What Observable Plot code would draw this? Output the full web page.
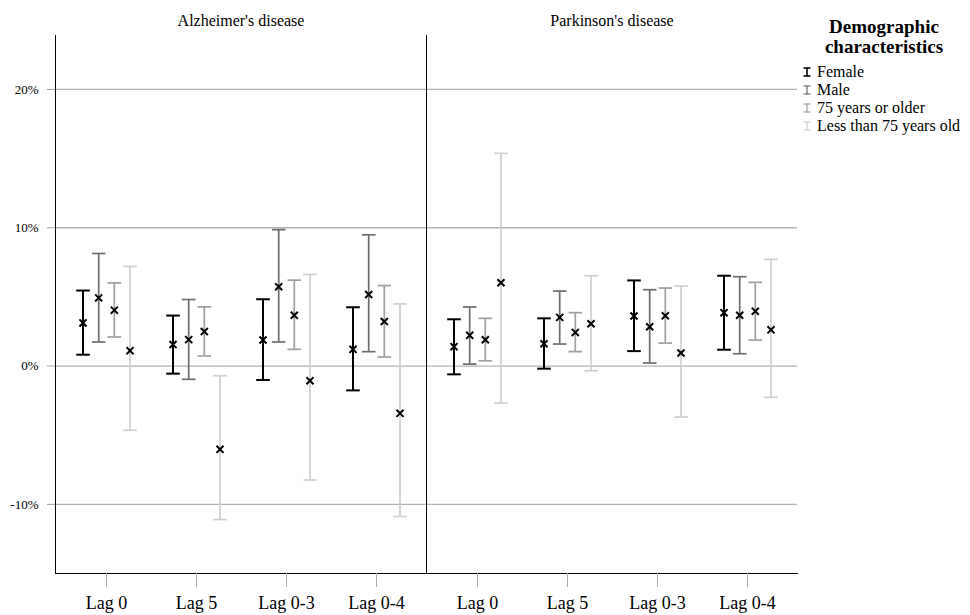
<!DOCTYPE html>
<html>
<head>
<meta charset="utf-8">
<script src="https://cdn.jsdelivr.net/npm/d3@7"></script>
<script src="https://cdn.jsdelivr.net/npm/@observablehq/plot@0.6"></script>
<style>
  body { margin: 0; background: #fff; }
  #wrap { position: relative; width: 970px; height: 615px; font-family: "Liberation Serif", "Times New Roman", serif; }
  #legend-title { position: absolute; left: 803px; top: 17px; width: 162px; text-align: center; font-weight: bold; font-size: 19px; line-height: 19.5px; color: #000; }
  #legend-items { position: absolute; left: 803px; top: 63px; font-size: 16px; line-height: 18px; color: #000; white-space: nowrap; }
  .item { display: flex; align-items: center; height: 18px; }
  .item svg { margin-right: 6px; }
</style>
</head>
<body>
<div id="wrap">
  <div id="chart"></div>
  <div id="legend-title">Demographic<br>characteristics</div>
  <div id="legend-items"></div>
</div>
<script>
// ---- data ----
const diseases = ["Alzheimer's disease", "Parkinson's disease"];
const lags = ["Lag 0", "Lag 5", "Lag 0-3", "Lag 0-4"];
const groups = ["Female", "Male", "75 years or older", "Less than 75 years old"];
const yTicks = [-10, 0, 10, 20];

// rows: groups (Female, Male, 75+, <75); columns: lags  (percent change)
const adEst = [
  [3.12, 1.55, 1.88, 1.21],
  [4.93, 1.91, 5.73, 5.17],
  [4.04, 2.49, 3.67, 3.22],
  [1.11, -6.02, -1.06, -3.42]
];
const adLo = [
  [0.82, -0.55, -1.01, -1.76],
  [1.74, -0.96, 1.74, 1.04],
  [2.10, 0.73, 1.21, 0.65],
  [-4.64, -11.1, -8.24, -10.87]
];
const adHi = [
  [5.46, 3.65, 4.83, 4.25],
  [8.14, 4.81, 9.86, 9.49],
  [6.01, 4.28, 6.21, 5.82],
  [7.20, -0.70, 6.62, 4.49]
];
const pdEst = [
  [1.40, 1.61, 3.62, 3.86],
  [2.22, 3.52, 2.84, 3.67],
  [1.90, 2.43, 3.64, 3.96],
  [6.02, 3.06, 0.94, 2.62]
];
const pdLo = [
  [-0.60, -0.19, 1.08, 1.18],
  [0.14, 1.59, 0.22, 0.89],
  [0.38, 1.04, 1.66, 1.88],
  [-2.68, -0.34, -3.69, -2.26]
];
const pdHi = [
  [3.38, 3.45, 6.19, 6.53],
  [4.27, 5.42, 5.52, 6.46],
  [3.45, 3.86, 5.64, 6.05],
  [15.38, 6.53, 5.78, 7.71]
];

// ---- styles ----
const colors = ["#000000", "#6e6e6e", "#a0a0a0", "#d0d0d0"];
const widths = [2, 1.7, 1.7, 1.7];
const offsets = [-23.5, -7.8, 7.8, 23.5];

// ---- build table ----
const rows = [];
const tables = [[adEst, adLo, adHi], [pdEst, pdLo, pdHi]];
diseases.forEach((disease, di) => {
  const [E, L, H] = tables[di];
  groups.forEach((group, gi) => {
    lags.forEach((lag, li) => {
      rows.push({disease, group, gi, lag, est: E[gi][li], lo: L[gi][li], hi: H[gi][li]});
    });
  });
});

const cap = {
  draw(context, size) {
    const w = Math.sqrt(size / Math.PI);
    context.moveTo(-w, 0);
    context.lineTo(w, 0);
  }
};

const marks = [
  Plot.gridY({ticks: yTicks, stroke: "#b4b4b4", strokeOpacity: 1, strokeWidth: 1.3}),
  Plot.frame({anchor: "left", stroke: "#000", strokeWidth: 1}),
  Plot.frame({anchor: "bottom", stroke: "#000", strokeWidth: 1}),
  Plot.axisY({ticks: yTicks, tickFormat: d => `${d}%`, tickSize: 8, tickPadding: 9, stroke: "#a0a0a0", fill: "#000", fontSize: 13, label: null}),
  Plot.axisX({tickSize: 14, tickPadding: 9, stroke: "#a8a8a8", fill: "#000", fontSize: 18, label: null}),
  Plot.axisFx({anchor: "top", tickSize: 0, tickPadding: 10, fill: "#000", fontSize: 16, label: null})
];

groups.forEach((g, i) => {
  const sub = rows.filter(d => d.group === g);
  marks.push(
    Plot.ruleX(sub, {fx: "disease", x: "lag", y1: "lo", y2: "hi", dx: offsets[i], stroke: colors[i], strokeWidth: widths[i]}),
    Plot.dot(sub, {fx: "disease", x: "lag", y: "lo", dx: offsets[i], symbol: cap, r: 6.8, stroke: colors[i], strokeWidth: widths[i]}),
    Plot.dot(sub, {fx: "disease", x: "lag", y: "hi", dx: offsets[i], symbol: cap, r: 6.8, stroke: colors[i], strokeWidth: widths[i]})
  );
});
groups.forEach((g, i) => {
  const sub = rows.filter(d => d.group === g);
  marks.push(
    Plot.dot(sub, {fx: "disease", x: "lag", y: "est", dx: offsets[i], symbol: "times", r: 3.3, stroke: "#000", strokeWidth: 2})
  );
});

const chart = Plot.plot({
  width: 970,
  height: 615,
  marginLeft: 55,
  marginRight: 173,
  marginTop: 35,
  marginBottom: 42,
  style: {fontFamily: "Liberation Serif, Times New Roman, serif", fontSize: "13px", background: "#fff", color: "#000"},
  fx: {domain: diseases, padding: 0, label: null},
  x: {type: "band", domain: lags, paddingInner: 0, paddingOuter: 0.053, label: null},
  y: {domain: [-15, 23.9], label: null},
  marks
});
document.getElementById("chart").appendChild(chart);

// ---- legend ----
const legend = document.getElementById("legend-items");
groups.forEach((g, i) => {
  const div = document.createElement("div");
  div.className = "item";
  const sw = i === 0 ? 1.6 : 1.2;
  div.innerHTML = `<svg width="8" height="10" viewBox="0 0 8 10"><g stroke="${colors[i]}" stroke-width="${sw}" fill="none"><line x1="0.5" x2="7.5" y1="1" y2="1"/><line x1="0.5" x2="7.5" y1="9" y2="9"/><line x1="4" x2="4" y1="1" y2="9"/></g></svg><span>${g}</span>`;
  legend.appendChild(div);
});
</script>
</body>
</html>
